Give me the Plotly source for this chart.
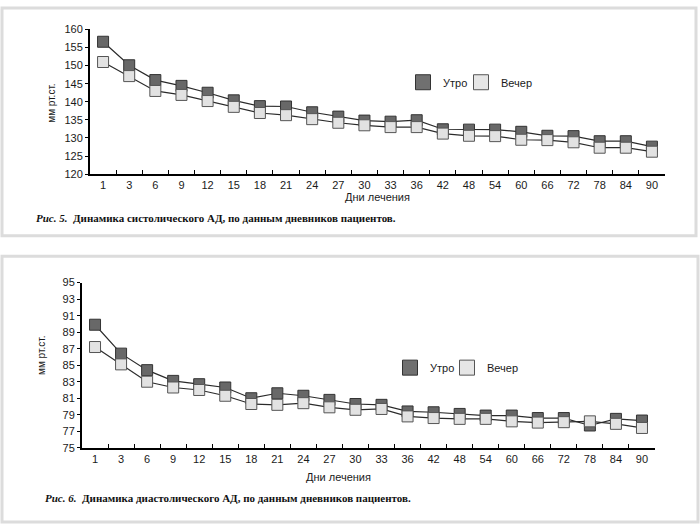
import plotly.graph_objects as go

W, H = 700, 531

days = ["1", "3", "6", "9", "12", "15", "18", "21", "24", "27", "30", "33", "36",
        "42", "48", "54", "60", "66", "72", "78", "84", "90"]

sys_morning = [156.6, 150.1, 146.0, 144.4, 142.5, 140.4, 138.8, 138.7, 137.1, 135.9, 134.8,
               134.5, 134.9, 132.4, 132.3, 132.3, 131.7, 130.6, 130.5, 129.1, 129.1, 127.6]
sys_evening = [151.0, 147.1, 143.0, 141.9, 140.2, 138.6, 136.9, 136.3, 135.2, 134.2, 133.5,
               133.0, 133.0, 131.2, 130.6, 130.5, 129.5, 129.4, 128.8, 127.3, 127.3, 126.2]

dia_morning = [89.9, 86.4, 84.4, 83.1, 82.7, 82.3, 81.0, 81.6, 81.3, 80.8, 80.3,
               80.2, 79.4, 79.3, 79.1, 78.9, 78.9, 78.6, 78.6, 77.7, 78.5, 78.3]
dia_evening = [87.2, 85.1, 83.0, 82.3, 82.0, 81.3, 80.3, 80.2, 80.4, 79.9, 79.6,
               79.7, 78.8, 78.6, 78.5, 78.5, 78.2, 78.05, 78.1, 78.2, 77.9, 77.4]

sys_ticks = [120, 125, 130, 135, 140, 145, 150, 155, 160]
dia_ticks = [75, 77, 79, 81, 83, 85, 87, 89, 91, 93, 95]

series_names = ["Утро", "Вечер"]
caption5_lead = "Рис. 5."
caption5_text = "Динамика систолического АД, по данным дневников пациентов."
caption6_lead = "Рис. 6."
caption6_text = "Динамика диастолического АД, по данным дневников пациентов."
y_title = "мм рт.ст."
x_title = "Дни лечения"


def px(x):
    return x / W


def py(y):
    return 1 - y / H


LINE = "#2b2b2b"
FILL_M = "#686868"
FILL_E = "#e2e2e2"
MSIZE = 11

fig = go.Figure()

for (xa, ya, m, e, lgs) in [("x", "y", sys_morning, sys_evening, ("legend", "legend2")),
                            ("x2", "y2", dia_morning, dia_evening, ("legend3", "legend4"))]:
    fig.add_trace(go.Scatter(x=days, y=m, xaxis=xa, yaxis=ya, mode="lines+markers",
                             line=dict(color=LINE, width=1.2),
                             marker=dict(symbol="square", size=MSIZE, color=FILL_M,
                                         line=dict(color="#333333", width=1)),
                             showlegend=False))
    fig.add_trace(go.Scatter(x=days, y=e, xaxis=xa, yaxis=ya, mode="lines+markers",
                             line=dict(color=LINE, width=1.2),
                             marker=dict(symbol="square", size=MSIZE, color=FILL_E,
                                         line=dict(color="#555555", width=1)),
                             showlegend=False))
    # legend entries
    fig.add_trace(go.Scatter(x=[None], y=[None], xaxis=xa, yaxis=ya, mode="markers",
                             name=series_names[0], legend=lgs[0],
                             marker=dict(symbol="square", size=15, color="#707070",
                                         line=dict(color="#333333", width=1))))
    fig.add_trace(go.Scatter(x=[None], y=[None], xaxis=xa, yaxis=ya, mode="markers",
                             name=series_names[1], legend=lgs[1],
                             marker=dict(symbol="square", size=15, color="#e6e6e6",
                                         line=dict(color="#555555", width=1))))

tickfont = dict(family="Liberation Sans, Arial, sans-serif", size=11, color="#1a1a1a")

xcommon = dict(type="category", showline=True, linewidth=2, linecolor="black",
               ticks="inside", ticklen=4, tickwidth=1, tickcolor="black",
               tickson="boundaries", showgrid=False, zeroline=False,
               tickfont=tickfont, range=[-0.5, len(days) - 0.5], fixedrange=True)
ycommon = dict(showline=True, linewidth=2, linecolor="black", ticks="outside",
               ticklen=3, tickwidth=1, tickcolor="black", showgrid=False,
               zeroline=False, tickfont=tickfont, fixedrange=True)

legend_common = dict(orientation="h", font=dict(family="Liberation Sans, Arial, sans-serif",
                                                size=11, color="#1a1a1a"),
                     bgcolor="rgba(0,0,0,0)", xanchor="left", yanchor="middle",
                     itemclick=False)

fig.update_layout(
    width=W, height=H,
    margin=dict(l=0, r=0, t=0, b=0),
    paper_bgcolor="white", plot_bgcolor="white",
    xaxis=dict(xcommon, domain=[px(90), px(665)], anchor="y"),
    yaxis=dict(ycommon, domain=[py(172), py(24)], range=[120, 160], tickvals=sys_ticks, anchor="x"),
    xaxis2=dict(xcommon, domain=[px(82), px(655)], anchor="y2"),
    yaxis2=dict(ycommon, domain=[py(452), py(283)], range=[75, 95], tickvals=dia_ticks, anchor="x2"),
    legend=dict(legend_common, x=px(403), y=py(78)),
    legend2=dict(legend_common, x=px(461), y=py(78)),
    legend3=dict(legend_common, x=px(390), y=py(370)),
    legend4=dict(legend_common, x=px(447), y=py(370)),
    showlegend=True,
)

shapes = [
    dict(type="rect", xref="paper", yref="paper", x0=px(2), x1=px(696), y0=py(235), y1=py(2),
         line=dict(color="#dcdcdc", width=3)),
    dict(type="rect", xref="paper", yref="paper", x0=px(2), x1=px(698), y0=py(528), y1=py(256),
         line=dict(color="#dcdcdc", width=3)),
]
fig.update_layout(shapes=shapes)

serif = dict(family="Liberation Serif, Times New Roman, serif", size=11, color="#111111")
sans_small = dict(family="Liberation Sans, Arial, sans-serif", size=10, color="#1a1a1a")
sans = dict(family="Liberation Sans, Arial, sans-serif", size=11, color="#1a1a1a")

annotations = [
    dict(text=y_title, xref="paper", yref="paper", x=px(52), y=py(100), textangle=-90,
         showarrow=False, font=sans_small, xanchor="center", yanchor="middle"),
    dict(text=y_title, xref="paper", yref="paper", x=px(42), y=py(358), textangle=-90,
         showarrow=False, font=sans_small, xanchor="center", yanchor="middle"),
    dict(text=x_title, xref="paper", yref="paper", x=px(377), y=py(195),
         showarrow=False, font=sans, xanchor="center", yanchor="middle"),
    dict(text=x_title, xref="paper", yref="paper", x=px(338), y=py(482),
         showarrow=False, font=sans, xanchor="center", yanchor="middle"),
    dict(text="<b><i>" + caption5_lead + "</i></b>  <b>" + caption5_text + "</b>",
         xref="paper", yref="paper", x=px(34), y=py(217),
         showarrow=False, font=serif, xanchor="left", yanchor="middle"),
    dict(text="<b><i>" + caption6_lead + "</i></b>  <b>" + caption6_text + "</b>",
         xref="paper", yref="paper", x=px(43), y=py(503),
         showarrow=False, font=serif, xanchor="left", yanchor="middle"),
]
fig.update_layout(annotations=annotations)

fig.write_html("out.html", config={"displayModeBar": False},
               post_script="document.body.style.margin='0px';")
